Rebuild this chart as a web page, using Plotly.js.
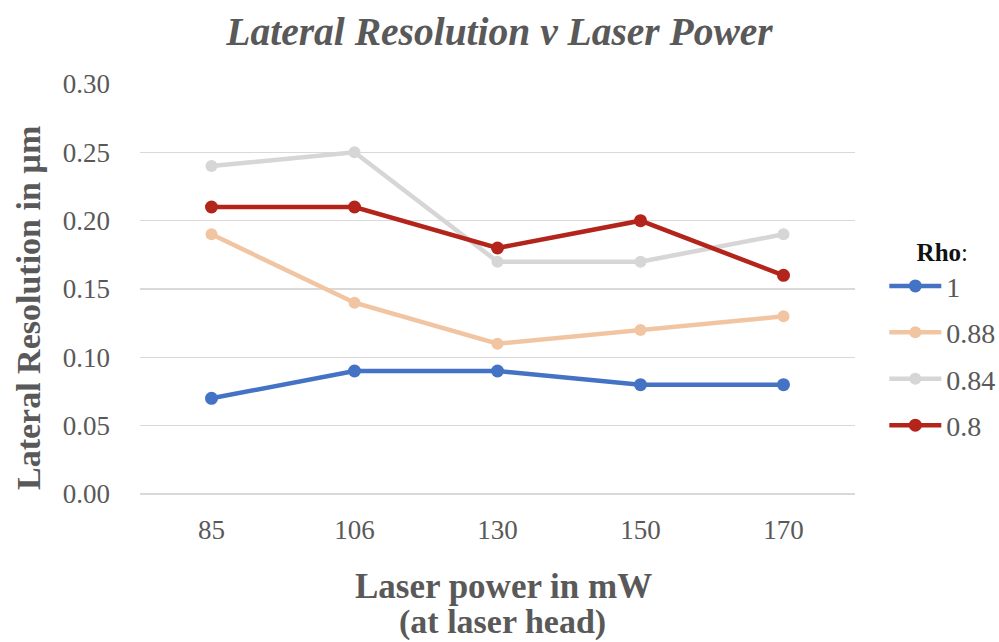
<!DOCTYPE html>
<html>
<head>
<meta charset="utf-8">
<script src="https://cdn.plot.ly/plotly-3.0.1.min.js"></script>
<style>
  html, body { margin: 0; padding: 0; background: #ffffff; }
  #chart { width: 999px; height: 642px; }
</style>
</head>
<body>
<div id="chart"></div>
<script>
// Laser power settings (mW, at laser head)
const laserPower = ['85', '106', '130', '150', '170'];

// Lateral resolution (µm) for each Rho value
const rhoNames = ['1', '0.88', '0.84', '0.8'];
const rho100 = [0.07, 0.09, 0.09, 0.08, 0.08];
const rho088 = [0.19, 0.14, 0.11, 0.12, 0.13];
const rho084 = [0.24, 0.25, 0.17, 0.17, 0.19];
const rho080 = [0.21, 0.21, 0.18, 0.20, 0.16];

const yTicks = [0, 0.05, 0.10, 0.15, 0.20, 0.25, 0.30];
const yTickText = ['0.00', '0.05', '0.10', '0.15', '0.20', '0.25', '0.30'];

const seriesValues = [rho100, rho088, rho084, rho080];
const seriesColors = ['#4472C4', '#F2C5A2', '#D6D6D6', '#B3241A'];
const markerSizes = [13, 12, 12, 13];

const serif = 'Liberation Serif';
const textGrey = '#595959';

const traces = seriesValues.map((vals, i) => ({
  type: 'scatter',
  mode: 'lines+markers',
  name: rhoNames[i],
  legendgroup: 'g' + i,
  x: laserPower,
  y: vals,
  line: { color: seriesColors[i], width: 4.5 },
  marker: { color: seriesColors[i], size: markerSizes[i] },
  hoverinfo: 'x+y+name'
}));

const layout = {
  width: 999,
  height: 642,
  paper_bgcolor: '#ffffff',
  plot_bgcolor: '#ffffff',
  margin: { l: 140, r: 144, t: 84, b: 148, autoexpand: false },
  font: { family: serif, color: textGrey, size: 27 },
  title: {
    text: '<b><i>Lateral Resolution v Laser Power</i></b>',
    font: { family: serif, size: 39.5, color: textGrey },
    x: 0.5,
    xanchor: 'center',
    y: 0.952,
    yanchor: 'middle'
  },
  xaxis: {
    type: 'category',
    range: [-0.5, 4.5],
    showgrid: false,
    zeroline: false,
    showline: false,
    ticks: '',
    ticklabelstandoff: 17,
    tickfont: { family: serif, size: 27, color: textGrey }
  },
  yaxis: {
    range: [0, 0.30],
    tickvals: yTicks,
    ticktext: yTickText,
    showgrid: true,
    gridcolor: '#D9D9D9',
    gridwidth: 1.5,
    zeroline: true,
    zerolinecolor: '#D9D9D9',
    zerolinewidth: 1.5,
    showline: false,
    ticks: '',
    ticklabelstandoff: 29,
    tickfont: { family: serif, size: 27, color: textGrey }
  },
  annotations: [
    {
      // y-axis title
      text: '<b>Lateral Resolution in µm</b>',
      font: { family: serif, size: 34, color: textGrey },
      textangle: -90,
      xref: 'paper', yref: 'paper',
      x: -0.155, y: 0.454,
      xanchor: 'center', yanchor: 'middle',
      showarrow: false
    },
    {
      // x-axis title, first line
      text: '<b>Laser power in mW</b>',
      font: { family: serif, size: 35, color: textGrey },
      xref: 'paper', yref: 'paper',
      x: 0.509, y: -0.225,
      xanchor: 'center', yanchor: 'middle',
      showarrow: false
    },
    {
      // x-axis title, second line
      text: '<b>(at laser head)</b>',
      font: { family: serif, size: 34, color: textGrey },
      xref: 'paper', yref: 'paper',
      x: 0.507, y: -0.311,
      xanchor: 'center', yanchor: 'middle',
      showarrow: false
    }
  ],
  legend: {
    x: 1.041,
    xanchor: 'left',
    y: 0.647,
    yanchor: 'top',
    traceorder: 'grouped',
    tracegroupgap: 7,
    bgcolor: 'rgba(0,0,0,0)',
    font: { family: serif, size: 28, color: textGrey },
    title: {
      text: '<b>Rho</b>:',
      side: 'top center',
      font: { family: serif, size: 25, color: '#111111' }
    },
    itemwidth: 52
  },
  showlegend: true
};

Plotly.newPlot('chart', traces, layout, { displayModeBar: false, staticPlot: true });
</script>
</body>
</html>
